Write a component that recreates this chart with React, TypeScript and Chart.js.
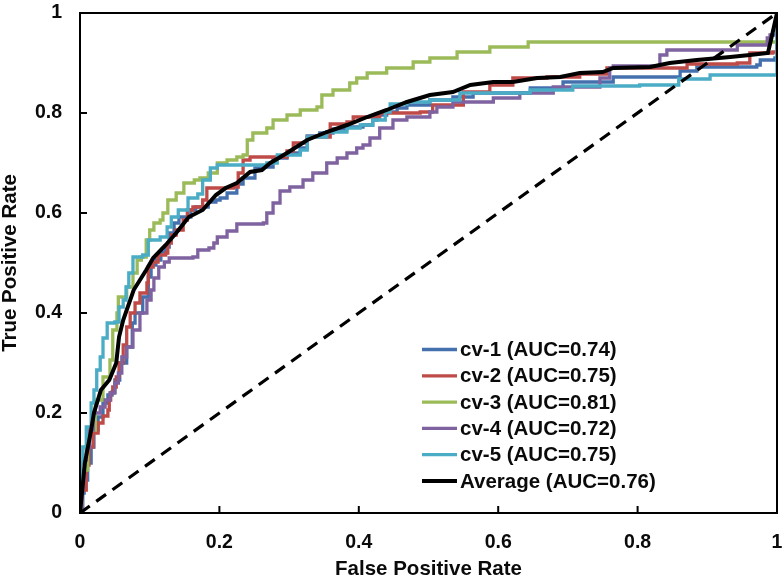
import React, { useEffect, useRef } from 'react';
import { Chart, registerables } from 'chart.js';

Chart.register(...registerables);

// ---- Data (FPR, TPR) ----
const SERIES_LABELS = [
  'cv-1 (AUC=0.74)',
  'cv-2 (AUC=0.75)',
  'cv-3 (AUC=0.81)',
  'cv-4 (AUC=0.72)',
  'cv-5 (AUC=0.75)',
  'Average (AUC=0.76)',
];
const SERIES_COLORS = ['#4570AE', '#BE4B48', '#9BBB59', '#7F62A0', '#4BACC6', '#000000'];

const X_TICKS = [0, 0.2, 0.4, 0.6, 0.8, 1];
const Y_TICKS = [0, 0.2, 0.4, 0.6, 0.8, 1];
const X_TITLE = 'False Positive Rate';
const Y_TITLE = 'True Positive Rate';

const cv1Points = [
  [0, 0], [0.004, 0.04], [0.006, 0.066], [0.011, 0.1], [0.016, 0.132], [0.02, 0.166], [0.026, 0.192],
  [0.033, 0.22], [0.04, 0.236], [0.046, 0.242], [0.05, 0.266], [0.057, 0.3], [0.067, 0.332], [0.075, 0.38],
  [0.079, 0.4], [0.09, 0.432], [0.098, 0.472], [0.102, 0.496], [0.109, 0.506], [0.116, 0.522], [0.123, 0.532],
  [0.128, 0.56], [0.135, 0.58], [0.142, 0.592], [0.152, 0.592], [0.159, 0.606], [0.166, 0.612], [0.184, 0.622],
  [0.195, 0.626], [0.201, 0.63], [0.211, 0.64], [0.225, 0.658], [0.234, 0.67], [0.251, 0.69], [0.263, 0.692],
  [0.277, 0.71], [0.297, 0.72], [0.316, 0.73], [0.326, 0.754], [0.344, 0.76], [0.363, 0.768], [0.383, 0.772],
  [0.406, 0.776], [0.42, 0.786], [0.426, 0.796], [0.44, 0.802], [0.455, 0.81], [0.469, 0.816], [0.502, 0.826],
  [0.535, 0.832], [0.564, 0.84], [0.646, 0.85], [0.693, 0.862], [0.765, 0.872], [0.861, 0.884], [0.885, 0.892],
  [0.971, 0.896], [0.976, 0.906], [0.997, 0.91], [1, 1],
];

const cv2Points = [
  [0, 0], [0.003, 0.046], [0.009, 0.096], [0.013, 0.132], [0.019, 0.16], [0.026, 0.18], [0.033, 0.194],
  [0.04, 0.206], [0.042, 0.226], [0.044, 0.24], [0.047, 0.252], [0.052, 0.272], [0.056, 0.3], [0.062, 0.336],
  [0.067, 0.372], [0.072, 0.4], [0.079, 0.42], [0.086, 0.44], [0.096, 0.46], [0.098, 0.492], [0.105, 0.502],
  [0.112, 0.516], [0.123, 0.52], [0.126, 0.54], [0.131, 0.556], [0.138, 0.566], [0.148, 0.586], [0.154, 0.606],
  [0.162, 0.612], [0.176, 0.626], [0.182, 0.65], [0.22, 0.652], [0.227, 0.68], [0.234, 0.706], [0.244, 0.712],
  [0.297, 0.724], [0.306, 0.74], [0.326, 0.752], [0.359, 0.778], [0.383, 0.782], [0.392, 0.792], [0.42, 0.792],
  [0.43, 0.8], [0.488, 0.802], [0.506, 0.816], [0.535, 0.816], [0.55, 0.842], [0.584, 0.842], [0.588, 0.856],
  [0.621, 0.87], [0.67, 0.872], [0.717, 0.878], [0.756, 0.89], [0.871, 0.898], [0.943, 0.9], [0.961, 0.92],
  [0.994, 0.922], [1, 1],
];

const cv3Points = [
  [0, 0], [0.003, 0.086], [0.011, 0.166], [0.022, 0.226], [0.033, 0.272], [0.043, 0.306], [0.047, 0.366],
  [0.053, 0.4], [0.055, 0.432], [0.067, 0.452], [0.076, 0.48], [0.082, 0.506], [0.088, 0.512], [0.095, 0.546],
  [0.1, 0.566], [0.106, 0.58], [0.115, 0.586], [0.119, 0.6], [0.126, 0.626], [0.138, 0.64], [0.149, 0.66],
  [0.164, 0.666], [0.172, 0.67], [0.184, 0.68], [0.197, 0.7], [0.211, 0.706], [0.225, 0.712], [0.234, 0.716],
  [0.24, 0.746], [0.248, 0.76], [0.268, 0.77], [0.277, 0.786], [0.297, 0.796], [0.316, 0.806], [0.34, 0.812],
  [0.347, 0.836], [0.363, 0.846], [0.387, 0.86], [0.397, 0.87], [0.412, 0.88], [0.44, 0.89], [0.478, 0.902],
  [0.502, 0.91], [0.541, 0.922], [0.588, 0.932], [0.643, 0.942], [0.99, 0.942], [1, 1],
];

const cv4Points = [
  [0, 0], [0.003, 0.066], [0.006, 0.106], [0.009, 0.132], [0.014, 0.166], [0.019, 0.2], [0.029, 0.212],
  [0.036, 0.226], [0.043, 0.24], [0.05, 0.26], [0.055, 0.28], [0.06, 0.312], [0.067, 0.332], [0.076, 0.366],
  [0.086, 0.4], [0.096, 0.426], [0.102, 0.446], [0.106, 0.47], [0.113, 0.492], [0.121, 0.502], [0.128, 0.51],
  [0.162, 0.512], [0.169, 0.526], [0.185, 0.53], [0.192, 0.54], [0.197, 0.552], [0.211, 0.564], [0.225, 0.578],
  [0.263, 0.58], [0.268, 0.6], [0.277, 0.62], [0.287, 0.644], [0.301, 0.652], [0.32, 0.666], [0.334, 0.68],
  [0.354, 0.7], [0.369, 0.71], [0.383, 0.72], [0.397, 0.73], [0.406, 0.736], [0.416, 0.75], [0.43, 0.77],
  [0.449, 0.786], [0.469, 0.792], [0.502, 0.802], [0.512, 0.812], [0.535, 0.822], [0.593, 0.83], [0.631, 0.84],
  [0.679, 0.852], [0.746, 0.87], [0.76, 0.89], [0.765, 0.894], [0.825, 0.894], [0.832, 0.916], [0.842, 0.926],
  [0.937, 0.926], [0.943, 0.936], [0.986, 0.95], [0.99, 0.956], [1, 1],
];

const cv5Points = [
  [0, 0], [0.001, 0.1], [0.004, 0.132], [0.009, 0.172], [0.016, 0.22], [0.02, 0.246], [0.024, 0.286],
  [0.029, 0.312], [0.033, 0.35], [0.039, 0.38], [0.05, 0.382], [0.056, 0.412], [0.062, 0.426], [0.066, 0.452],
  [0.07, 0.48], [0.076, 0.512], [0.09, 0.516], [0.098, 0.546], [0.115, 0.552], [0.125, 0.572], [0.131, 0.592],
  [0.141, 0.606], [0.155, 0.63], [0.169, 0.638], [0.176, 0.666], [0.187, 0.69], [0.197, 0.696], [0.268, 0.7],
  [0.283, 0.716], [0.316, 0.726], [0.326, 0.752], [0.354, 0.762], [0.383, 0.77], [0.402, 0.776], [0.42, 0.786],
  [0.438, 0.802], [0.445, 0.818], [0.469, 0.822], [0.502, 0.826], [0.541, 0.826], [0.545, 0.84], [0.646, 0.846],
  [0.707, 0.854], [0.803, 0.856], [0.857, 0.856], [0.859, 0.868], [0.904, 0.87], [0.904, 0.876], [0.997, 0.876],
  [1, 1],
];

const averagePoints = [
  [0, 0], [0.007, 0.1], [0.016, 0.166], [0.02, 0.2], [0.03, 0.246], [0.042, 0.266], [0.052, 0.3], [0.056, 0.352],
  [0.062, 0.386], [0.077, 0.446], [0.095, 0.486], [0.105, 0.51], [0.123, 0.536], [0.138, 0.56], [0.156, 0.592],
  [0.176, 0.606], [0.195, 0.636], [0.209, 0.65], [0.225, 0.66], [0.244, 0.682], [0.261, 0.686], [0.273, 0.7],
  [0.297, 0.72], [0.326, 0.746], [0.354, 0.762], [0.383, 0.776], [0.412, 0.792], [0.44, 0.806], [0.469, 0.822],
  [0.502, 0.836], [0.535, 0.842], [0.56, 0.856], [0.593, 0.862], [0.621, 0.862], [0.656, 0.87], [0.689, 0.872],
  [0.717, 0.88], [0.75, 0.882], [0.765, 0.89], [0.818, 0.892], [0.846, 0.9], [0.885, 0.906], [0.933, 0.912],
  [0.961, 0.916], [0.987, 0.92], [0.992, 0.95], [1, 1],
];

const chancePoints = [[0, 0], [1, 1]];

const SERIES_POINTS = [cv1Points, cv2Points, cv3Points, cv4Points, cv5Points, averagePoints];

const FONT_FAMILY = "'Liberation Sans', Arial, Helvetica, sans-serif";

const toXY = (pts: number[][]) => pts.map(([x, y]) => ({ x, y }));

const zeroPadding = (s: any) => {
  s.paddingLeft = 0;
  s.paddingRight = 0;
  s.paddingTop = 0;
  s.paddingBottom = 0;
};

const framePlugin = {
  id: 'rocFrame',
  afterDatasetsDraw(chart: any) {
    const { ctx, chartArea: a, scales } = chart;
    ctx.save();
    ctx.strokeStyle = '#000';
    ctx.lineWidth = 2;
    ctx.strokeRect(a.left, a.top, a.right - a.left, a.bottom - a.top);
    ctx.beginPath();
    for (const v of X_TICKS) {
      const x = scales.x.getPixelForValue(v);
      ctx.moveTo(x, a.bottom);
      ctx.lineTo(x, a.bottom - 7);
    }
    for (const v of Y_TICKS) {
      const y = scales.y.getPixelForValue(v);
      ctx.moveTo(a.left, y);
      ctx.lineTo(a.left + 7, y);
    }
    ctx.stroke();

    // legend (inside plot, lower right)
    const lx = a.left + 342;
    const ly0 = a.bottom - 163.5;
    const rowH = 26.3;
    ctx.font = `bold 20.5px ${FONT_FAMILY}`;
    ctx.textBaseline = 'middle';
    ctx.textAlign = 'left';
    SERIES_LABELS.forEach((label, i) => {
      const y = ly0 + i * rowH;
      ctx.strokeStyle = SERIES_COLORS[i];
      ctx.lineWidth = i === 5 ? 4 : 3.3;
      ctx.beginPath();
      ctx.moveTo(lx, y);
      ctx.lineTo(lx + 35, y);
      ctx.stroke();
      ctx.fillStyle = '#0a0a0a';
      ctx.fillText(label, lx + 38, y + 1);
    });
    ctx.restore();
  },
};

export default function App() {
  const ref = useRef<HTMLCanvasElement>(null);

  useEffect(() => {
    if (!ref.current) return;
    const datasets: any[] = SERIES_POINTS.map((pts, i) => ({
      label: SERIES_LABELS[i],
      data: toXY(pts),
      borderColor: SERIES_COLORS[i],
      backgroundColor: SERIES_COLORS[i],
      borderWidth: i === 5 ? 4 : 3.3,
      pointRadius: 0,
      fill: false,
      stepped: i === 5 ? false : 'before',
      tension: 0,
      order: i === 5 ? 0 : 7 - i,
    }));
    datasets.push({
      label: 'chance',
      data: toXY(chancePoints),
      borderColor: '#000',
      borderWidth: 3.2,
      borderDash: [12, 8],
      pointRadius: 0,
      fill: false,
      order: 1,
    });

    const tickFont = { family: FONT_FAMILY, size: 19.5, weight: 'bold' as const };
    const titleFont = { family: FONT_FAMILY, size: 20.5, weight: 'bold' as const, lineHeight: 1 };
    const fmt = (v: any) => String(Math.round(Number(v) * 10) / 10);

    const chart = new Chart(ref.current, {
      type: 'line',
      data: { datasets },
      options: {
        responsive: false,
        animation: false,
        devicePixelRatio: 1,
        layout: { padding: { top: 13, right: 7, left: 0, bottom: 0 } },
        plugins: { legend: { display: false }, tooltip: { enabled: false } },
        scales: {
          x: {
            type: 'linear',
            min: 0,
            max: 1,
            afterBuildTicks: (s: any) => {
              s.ticks = X_TICKS.map((v) => ({ value: v }));
            },
            afterFit: (s: any) => {
              s.height = 69;
              zeroPadding(s);
            },
            grid: { display: false, drawTicks: false },
            border: { display: false },
            ticks: { color: '#0a0a0a', font: tickFont, padding: 18, maxRotation: 0, autoSkip: false, callback: fmt },
            title: { display: true, text: X_TITLE, color: '#0a0a0a', font: titleFont, padding: { top: 0, bottom: 2 } },
          },
          y: {
            type: 'linear',
            min: 0,
            max: 1,
            afterBuildTicks: (s: any) => {
              s.ticks = Y_TICKS.map((v) => ({ value: v }));
            },
            afterFit: (s: any) => {
              s.width = 80;
              zeroPadding(s);
            },
            grid: { display: false, drawTicks: false },
            border: { display: false },
            ticks: { color: '#0a0a0a', font: tickFont, padding: 18, autoSkip: false, callback: fmt },
            title: { display: true, text: Y_TITLE, color: '#0a0a0a', font: titleFont, padding: { top: 0, bottom: 0 } },
          },
        },
      },
      plugins: [framePlugin],
    } as any);
    return () => chart.destroy();
  }, []);

  return (
    <div style={{ position: 'absolute', left: 0, top: 0, width: 784, height: 582, background: '#fff' }}>
      <canvas ref={ref} width={784} height={582} style={{ display: 'block', width: 784, height: 582 }} />
    </div>
  );
}
